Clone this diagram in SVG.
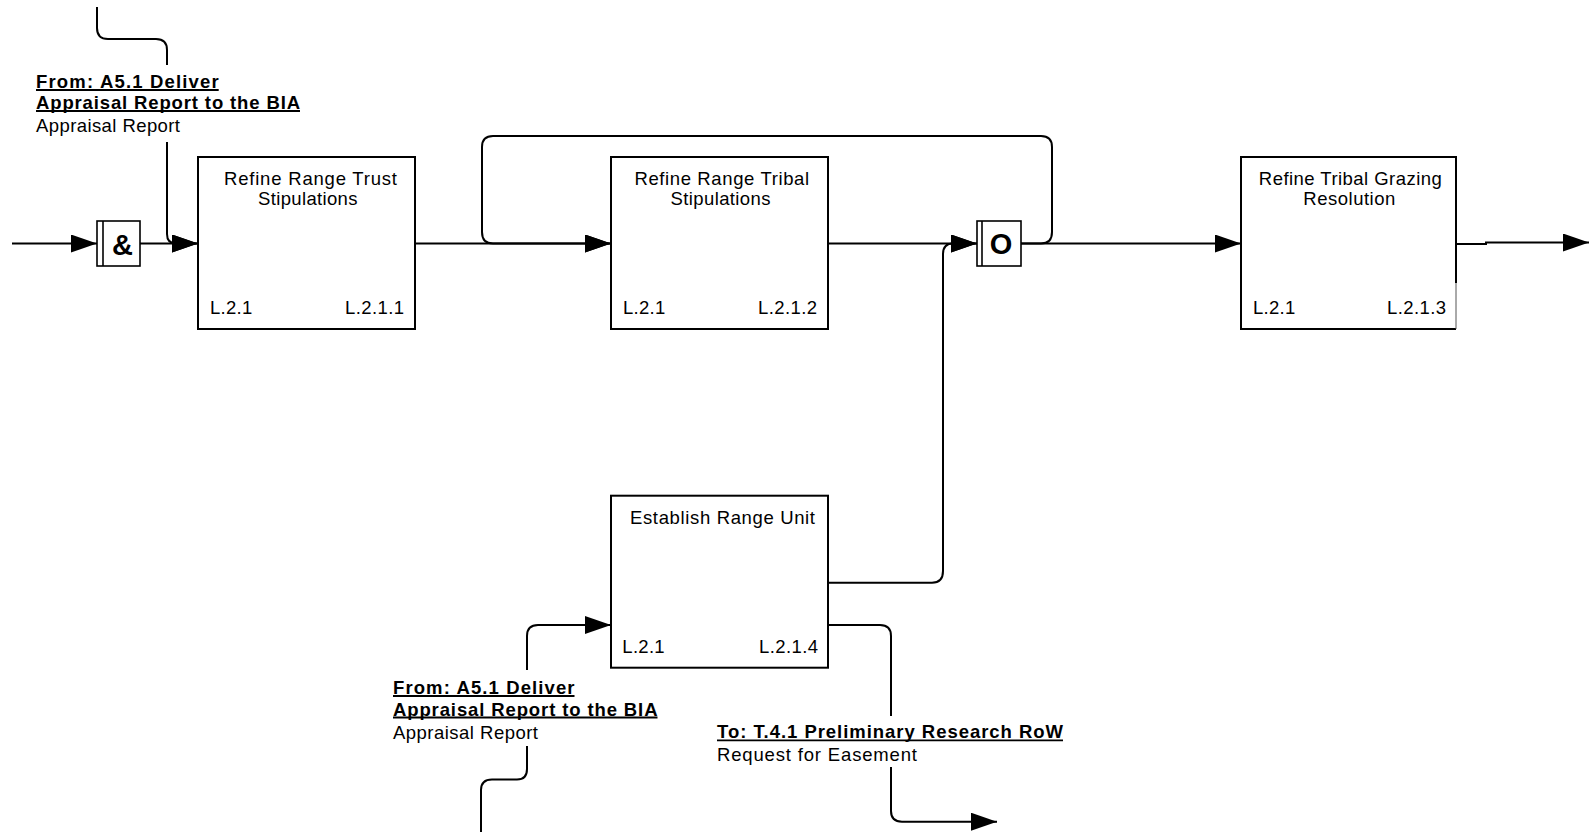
<svg xmlns="http://www.w3.org/2000/svg" width="1589" height="832" viewBox="0 0 1589 832">
<defs>
<marker id="arr" markerUnits="userSpaceOnUse" markerWidth="26" markerHeight="18" refX="26" refY="9" orient="auto">
<path d="M0,0 L26,9 L0,18 z" fill="#000"/>
</marker>
<style>
.box{fill:#fff;stroke:#000;stroke-width:2}
.gate{fill:#fff;stroke:#000;stroke-width:1.6}
.t{font-family:"Liberation Sans",Arial,sans-serif;font-size:18.5px;fill:#000}
.b{font-family:"Liberation Sans",Arial,sans-serif;font-size:18.5px;font-weight:bold;fill:#000}
.u{stroke:#000;stroke-width:1.8}
.g{font-family:"Liberation Sans",Arial,sans-serif;font-size:29px;font-weight:bold;fill:#000;text-anchor:middle}
.c{fill:none;stroke:#000;stroke-width:2}
</style>
</defs>
<rect width="1589" height="832" fill="#fff"/>
<g id="connectors">
<path class="c" d="M97,7 V28 Q97,39 108,39 H156 Q167,39 167,50 V65"/>
<path class="c" d="M167,142 V234 Q167,243.5 176,243.5 H198" marker-end="url(#arr)"/>
<path class="c" d="M12,243.5 H97" marker-end="url(#arr)"/>
<path class="c" d="M140,243.5 H198" marker-end="url(#arr)"/>
<path class="c" d="M415,243.5 H611" marker-end="url(#arr)"/>
<path class="c" d="M1021,243.5 H1041 Q1052,243.5 1052,232 V147 Q1052,136 1041,136 H493 Q482,136 482,147 V232 Q482,243.5 493,243.5 H611" marker-end="url(#arr)"/>
<path class="c" d="M828,243.5 H977" marker-end="url(#arr)"/>
<path class="c" d="M828,582.7 H932 Q943,582.7 943,571 V254 Q943,243.5 953,243.5 H977" marker-end="url(#arr)"/>
<path class="c" d="M1021,243.5 H1241" marker-end="url(#arr)"/>
<path class="c" d="M1456,244 H1486 V242.5 H1589" marker-end="url(#arr)"/>
<path class="c" d="M481,832 V790 Q481,779.5 492,779.5 H517 Q527,779.5 527,769 V746"/>
<path class="c" d="M527,670 V636 Q527,625 538,625 H611" marker-end="url(#arr)"/>
<path class="c" d="M828,625 H880 Q891,625 891,636 V716"/>
<path class="c" d="M891,767 V811 Q891,821.7 902,821.7 H997" marker-end="url(#arr)"/>
</g>
<g id="label-top">
<text class="b" x="36" y="88" textLength="182.7" lengthAdjust="spacing">From: A5.1 Deliver</text>
<line class="u" x1="36" y1="90" x2="218.7" y2="90"/>
<text class="b" x="36" y="109" textLength="264" lengthAdjust="spacing">Appraisal Report to the BIA</text>
<line class="u" x1="36" y1="111" x2="300" y2="111"/>
<text class="t" x="36" y="132" textLength="144" lengthAdjust="spacing">Appraisal Report</text>
</g>
<g id="label-bottom">
<text class="b" x="393" y="694" textLength="181.5" lengthAdjust="spacing">From: A5.1 Deliver</text>
<line class="u" x1="393" y1="696" x2="574.5" y2="696"/>
<text class="b" x="393" y="715.5" textLength="264.5" lengthAdjust="spacing">Appraisal Report to the BIA</text>
<line class="u" x1="393" y1="717.5" x2="657.5" y2="717.5"/>
<text class="t" x="393" y="738.5" textLength="145" lengthAdjust="spacing">Appraisal Report</text>
</g>
<g id="label-to">
<text class="b" x="717" y="738.3" textLength="346" lengthAdjust="spacing">To: T.4.1 Preliminary Research RoW</text>
<line class="u" x1="717" y1="740.3" x2="1063" y2="740.3"/>
<text class="t" x="717" y="761" textLength="200" lengthAdjust="spacing">Request for Easement</text>
</g>
<g id="gate-and">
<rect class="gate" x="97" y="221" width="43" height="45"/>
<line x1="103" y1="221" x2="103" y2="266" stroke="#000" stroke-width="1.6"/>
<text class="g" x="122.5" y="255">&amp;</text>
</g>
<g id="gate-or">
<rect class="gate" x="977" y="221" width="44" height="45"/>
<line x1="982" y1="221" x2="982" y2="266" stroke="#000" stroke-width="1.6"/>
<text class="g" x="1001" y="254">O</text>
</g>
<g id="node-L211">
<rect class="box" x="198" y="157" width="217" height="172"/>
<text class="t" x="224" y="185" textLength="173" lengthAdjust="spacing">Refine Range Trust</text>
<text class="t" x="258" y="205" textLength="99.5" lengthAdjust="spacing">Stipulations</text>
<text class="t" x="210" y="314" textLength="42.3" lengthAdjust="spacing">L.2.1</text>
<text class="t" x="345" y="314" textLength="59" lengthAdjust="spacing">L.2.1.1</text>
</g>
<g id="node-L212">
<rect class="box" x="611" y="157" width="217" height="172"/>
<text class="t" x="634.4" y="185" textLength="174.7" lengthAdjust="spacing">Refine Range Tribal</text>
<text class="t" x="670.6" y="205" textLength="99.8" lengthAdjust="spacing">Stipulations</text>
<text class="t" x="623" y="314" textLength="42.3" lengthAdjust="spacing">L.2.1</text>
<text class="t" x="758" y="314" textLength="59" lengthAdjust="spacing">L.2.1.2</text>
</g>
<g id="node-L213">
<rect x="1241" y="157" width="215" height="172" fill="#fff"/>
<path d="M1456,283 V157 H1241 V329 H1456" fill="none" stroke="#000" stroke-width="2"/>
<path d="M1456,283 V329" fill="none" stroke="#555" stroke-width="1"/>
<text class="t" x="1258.8" y="185" textLength="183" lengthAdjust="spacing">Refine Tribal Grazing</text>
<text class="t" x="1303.3" y="205" textLength="92" lengthAdjust="spacing">Resolution</text>
<text class="t" x="1253" y="314" textLength="42.3" lengthAdjust="spacing">L.2.1</text>
<text class="t" x="1387" y="314" textLength="59" lengthAdjust="spacing">L.2.1.3</text>
</g>
<g id="node-L214">
<rect class="box" x="611" y="495.7" width="217" height="172"/>
<text class="t" x="630" y="523.5" textLength="185" lengthAdjust="spacing">Establish Range Unit</text>
<text class="t" x="622.3" y="652.7" textLength="42.3" lengthAdjust="spacing">L.2.1</text>
<text class="t" x="759" y="652.7" textLength="59" lengthAdjust="spacing">L.2.1.4</text>
</g>
</svg>
